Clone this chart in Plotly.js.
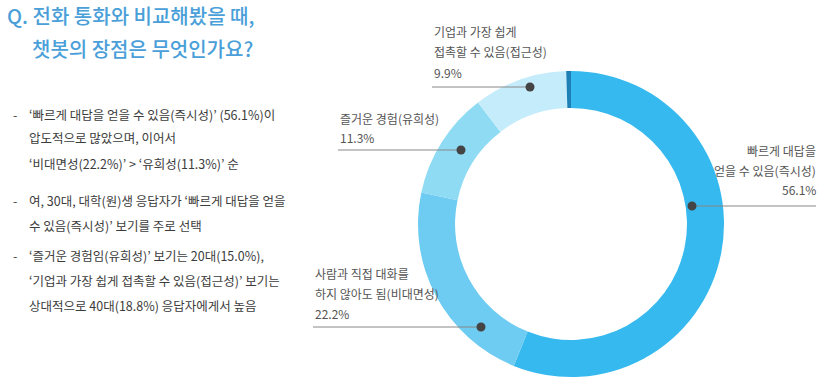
<!DOCTYPE html>
<html><head><meta charset="utf-8">
<script src="https://cdn.plot.ly/plotly-3.0.1.min.js"></script>
<style>html,body{margin:0;padding:0;background:#fff;overflow:hidden}#chart{width:827px;height:389px}</style>
</head><body><div id="chart"></div>
<script>
const W = 827, H = 389;
// ---- data ----
const categories = ['빠르게 대답을 얻을 수 있음(즉시성)', '사람과 직접 대화를 하지 않아도 됨(비대면성)', '즐거운 경험(유희성)', '기업과 가장 쉽게 접촉할 수 있음(접근성)', '기타'];
const values = [56.1, 22.2, 11.3, 9.9, 0.5];
const sliceColors = ['#35b9ee', '#6ecbf1', '#8edbf3', '#c5ecfb', '#1c7fb6'];
const labelLines = [
  ['빠르게 대답을', '얻을 수 있음(즉시성)'],
  ['사람과 직접 대화를', '하지 않아도 됨(비대면성)'],
  ['즐거운 경험(유희성)'],
  ['기업과 가장 쉽게', '접촉할 수 있음(접근성)']
];
const titleLines = ['Q. 전화 통화와 비교해봤을 때,', '챗봇의 장점은 무엇인가요?'];
const bullets = [
  ['‘빠르게 대답을 얻을 수 있음(즉시성)’ (56.1%)이', '압도적으로 많았으며, 이어서', '‘비대면성(22.2%)’ &gt; ‘유희성(11.3%)’ 순'],
  ['여, 30대, 대학(원)생 응답자가 ‘빠르게 대답을 얻을', '수 있음(즉시성)’ 보기를 주로 선택'],
  ['‘즐거운 경험임(유희성)’ 보기는 20대(15.0%),', '‘기업과 가장 쉽게 접촉할 수 있음(접근성)’ 보기는', '상대적으로 40대(18.8%) 응답자에게서 높음']
];

// ---- layout helpers (pixel -> paper) ----
const px = x => x / W, py = y => 1 - y / H;
const FONT = '"Noto Sans CJK KR", "Noto Sans", sans-serif';
const cx = 571, cy = 224, R = 153;

const annotations = [];
const shapes = [];
function txt(x, y, t, opts) {
  annotations.push(Object.assign({
    xref: 'paper', yref: 'paper', x: px(x), y: py(y), text: t, showarrow: false,
    xanchor: 'left', yanchor: 'middle',
    font: {family: FONT, size: 12, color: '#555555'}
  }, opts || {}));
}

// title
txt(5, 15, titleLines[0], {font: {family: FONT, size: 20, color: '#4a9fd9', weight: 500}});
txt(30, 48, titleLines[1], {font: {family: FONT, size: 20, color: '#4a9fd9', weight: 500}});

// bullets
const bulletYs = [[114, 138, 163], [200, 225], [255, 280, 305]];
bullets.forEach((lines, i) => {
  txt(11, bulletYs[i][0], '-', {font: {family: FONT, size: 12.5, color: '#444444'}});
  lines.forEach((l, j) => txt(27, bulletYs[i][j], l, {font: {family: FONT, size: 12.5, color: '#3c3c3c'}}));
});

// slice labels with leader lines
const labelPos = [
  {x: 818, anchor: 'right', ys: [151, 170, 189], ly: 206, lx0: 692, lx1: 816, dot: [692, 206]},
  {x: 313, anchor: 'left', ys: [273, 293, 313], ly: 327, lx0: 313, lx1: 481, dot: [481, 327]},
  {x: 338, anchor: 'left', ys: [118, 137], ly: 150, lx0: 338, lx1: 461, dot: [461, 150]},
  {x: 432, anchor: 'left', ys: [31, 52, 72], ly: 87, lx0: 432, lx1: 530, dot: [530, 87]}
];
labelPos.forEach((p, i) => {
  const lines = labelLines[i].concat([values[i].toFixed(1) + '%']);
  lines.forEach((l, j) => txt(p.x, p.ys[j], l, {xanchor: p.anchor}));
  shapes.push({type: 'line', xref: 'paper', yref: 'paper', x0: px(p.lx0), x1: px(p.lx1), y0: py(p.ly), y1: py(p.ly),
    line: {color: '#888888', width: 1}, layer: 'above'});
  shapes.push({type: 'circle', xref: 'paper', yref: 'paper', xsizemode: 'pixel', ysizemode: 'pixel',
    xanchor: px(p.dot[0]), yanchor: py(p.dot[1]), x0: -4.5, x1: 4.5, y0: -4.5, y1: 4.5,
    fillcolor: '#444444', line: {width: 0}, layer: 'above'});
});

const trace = {
  type: 'pie', labels: categories, values: values, sort: false, direction: 'clockwise', rotation: 0,
  hole: 0.758, textinfo: 'none', hoverinfo: 'none', showlegend: false,
  marker: {colors: sliceColors, line: {width: 0}},
  domain: {x: [px(cx - R), px(cx + R)], y: [py(cy + R), py(cy - R)]}
};

Plotly.newPlot('chart', [trace], {
  width: W, height: H, margin: {l: 0, r: 0, t: 0, b: 0},
  paper_bgcolor: '#ffffff', plot_bgcolor: '#ffffff', showlegend: false,
  annotations: annotations, shapes: shapes
}, {staticPlot: true, displayModeBar: false});
</script></body></html>
